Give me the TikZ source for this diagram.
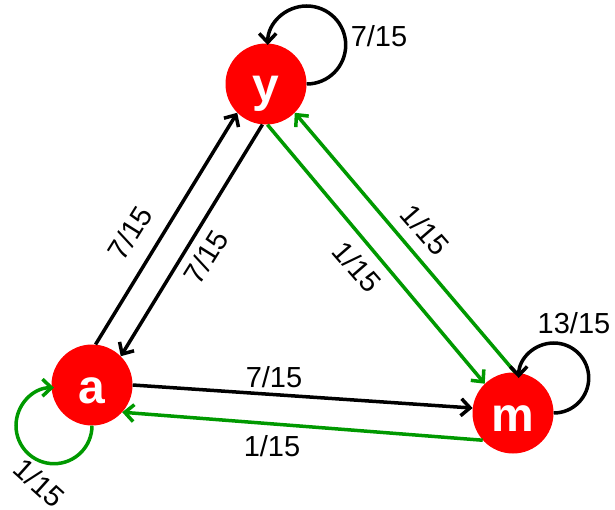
\documentclass[tikz,border=0pt]{standalone}
\usepackage{fontspec}
\setmainfont{Liberation Sans}
\usetikzlibrary{arrows.meta}
\definecolor{grn}{RGB}{0,153,0}
\begin{document}
\begin{tikzpicture}[x=1pt,y=-1pt,
  state/.style={circle,fill=red,minimum size=81pt,inner sep=0pt,text=white,
    font=\fontsize{48}{48}\selectfont\bfseries,text height=36pt,text depth=0pt},
  edge/.style={line width=3.5pt,-{Straight Barb[length=9pt,width=17pt]}},
  lbl/.style={font=\fontsize{29}{29}\selectfont,inner sep=0pt},
]
\useasboundingbox (0,0) rectangle (615,510);
\node[state] (y) at (266,84) {y};
\node[state] (a) at (92,385) {a};
\node[state] (m) at (513,413) {m};

\draw[edge] (a.85) -- (y.225);
\draw[edge] (y.265) -- (a.45);
\draw[edge,grn] (y.272) -- (m.134);
\draw[edge,grn] (m.87) -- (y.315);
\draw[edge] (a.0) -- (m.173);
\draw[edge,grn] (m.222) -- (a.318);

\draw[edge] (y.0) arc[start angle=90,end angle=-180,radius=39];
\draw[edge,grn] (a.-90) arc[start angle=0,end angle=270,radius=38];
\draw[edge] (m.0) arc[start angle=90,end angle=-180,radius=35];

\node[lbl] (ly) at (379,36) {7/15};
\node[lbl] (lm) at (574,323) {13/15};
\node[lbl,rotate=58] (lay) at (130,233) {7/15};
\node[lbl,rotate=58] (lya) at (206,257) {7/15};
\node[lbl,rotate=-49] (lym) at (357,267) {1/15};
\node[lbl,rotate=-49] (lmy) at (425,230) {1/15};
\node[lbl] (lam) at (274,377) {7/15};
\node[lbl] (lma) at (272,446) {1/15};
\node[lbl,rotate=-42] (laa) at (39,483) {1/15};
\end{tikzpicture}
\end{document}
